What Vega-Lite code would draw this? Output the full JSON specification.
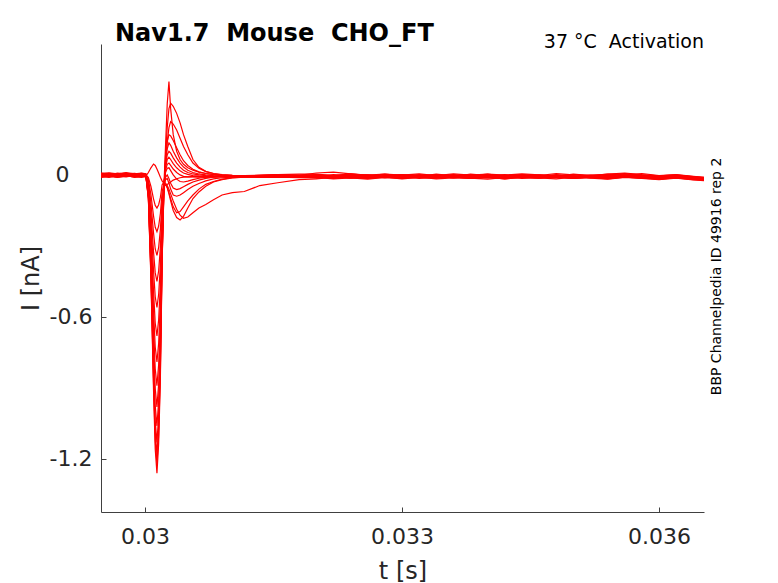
{
  "$schema": "https://vega.github.io/schema/vega-lite/v6.json",
  "width": 603,
  "height": 468,
  "autosize": {"type": "none"},
  "padding": {"left": 101, "top": 44, "right": 74, "bottom": 71},
  "background": "white",
  "config": {"view": {"stroke": null}, "font": "DejaVu Sans"},
  "title": {"text": "Nav1.7\u00a0 Mouse\u00a0 CHO_FT", "anchor": "start", "frame": "group", "dx": 14, "offset": -32, "baseline": "alphabetic", "fontSize": 24, "fontWeight": "bold", "color": "#000000", "font": "DejaVu Sans"},
  "layer": [
    {
      "data": {"values": [
        {"t":0.02948,"a":0.004,"b":-0.003,"c":0.008,"d":-0.006,"e":0.001,"f":-0.009,"g":0.005,"h":-0.002,"i":0.002,"j":-0.011,"k":0.006,"l":-0.004,"m":0.0,"n":0.003,"o":-0.007},
        {"t":0.02958,"a":-0.002,"b":0.005,"c":0.002,"d":-0.01,"e":0.007,"f":-0.004,"g":0.0,"h":-0.007,"i":0.004,"j":-0.006,"k":0.009,"l":0.001,"m":-0.005,"n":-0.001,"o":-0.003},
        {"t":0.02968,"a":0.006,"b":0.0,"c":-0.004,"d":-0.003,"e":0.003,"f":-0.008,"g":0.008,"h":-0.001,"i":-0.002,"j":-0.01,"k":0.004,"l":-0.006,"m":0.003,"n":0.005,"o":-0.009},
        {"t":0.02978,"a":0.001,"b":-0.006,"c":0.004,"d":-0.008,"e":0.008,"f":-0.002,"g":0.003,"h":-0.005,"i":0.006,"j":-0.004,"k":0.01,"l":-0.001,"m":-0.003,"n":0.002,"o":-0.006},
        {"t":0.02988,"a":-0.004,"b":0.002,"c":0.007,"d":-0.002,"e":0.0,"f":-0.01,"g":0.006,"h":-0.007,"i":0.003,"j":-0.008,"k":0.005,"l":-0.005,"m":0.002,"n":-0.003,"o":-0.001},
        {"t":0.02996,"a":0.003,"b":-0.002,"c":0.001,"d":-0.006,"e":0.005,"f":-0.005,"g":-0.001,"h":-0.003,"i":0.007,"j":-0.01,"k":0.008,"l":0.0,"m":-0.004,"n":0.004,"o":-0.007},
        {"t":0.03001,"a":0.0,"b":-0.001,"c":0.002,"d":-0.004,"e":0.003,"f":-0.006,"g":0.001,"h":-0.002,"i":0.004,"j":-0.007,"k":0.005,"l":-0.003,"m":-0.002,"n":0.001,"o":-0.005},
        {"t":0.03004,"a":-0.1,"b":-0.098,"c":-0.094,"d":-0.09,"e":-0.085,"f":-0.078,"g":-0.071,"h":-0.063,"i":-0.054,"j":-0.045,"k":-0.036,"l":-0.027,"m":-0.019,"n":-0.011,"o":0.01},
        {"t":0.03007,"a":-0.441,"b":-0.427,"c":-0.413,"d":-0.396,"e":-0.371,"f":-0.343,"g":-0.312,"h":-0.277,"i":-0.238,"j":-0.196,"k":-0.158,"l":-0.119,"m":-0.084,"n":-0.049,"o":0.03},
        {"t":0.0301,"a":-0.907,"b":-0.878,"c":-0.85,"d":-0.814,"e":-0.763,"f":-0.706,"g":-0.641,"h":-0.569,"i":-0.49,"j":-0.403,"k":-0.324,"l":-0.245,"m":-0.173,"n":-0.101,"o":0.046},
        {"t":0.03012,"a":-1.159,"b":-1.122,"c":-1.086,"d":-1.04,"e":-0.975,"f":-0.902,"g":-0.819,"h":-0.727,"i":-0.626,"j":-0.515,"k":-0.414,"l":-0.313,"m":-0.221,"n":-0.129,"o":0.04},
        {"t":0.03014,"a":-1.26,"b":-1.22,"c":-1.18,"d":-1.13,"e":-1.06,"f":-0.98,"g":-0.89,"h":-0.79,"i":-0.68,"j":-0.56,"k":-0.45,"l":-0.34,"m":-0.24,"n":-0.14,"o":0.025},
        {"t":0.03016,"a":-1.134,"b":-1.098,"c":-1.062,"d":-1.017,"e":-0.954,"f":-0.882,"g":-0.801,"h":-0.711,"i":-0.612,"j":-0.504,"k":-0.405,"l":-0.306,"m":-0.216,"n":-0.126,"o":0.008},
        {"t":0.03018,"a":-0.857,"b":-0.83,"c":-0.802,"d":-0.768,"e":-0.721,"f":-0.666,"g":-0.605,"h":-0.537,"i":-0.462,"j":-0.381,"k":-0.306,"l":-0.231,"m":-0.163,"n":-0.095,"o":-0.01},
        {"t":0.0302,"a":-0.378,"b":-0.366,"c":-0.354,"d":-0.339,"e":-0.318,"f":-0.294,"g":-0.267,"h":-0.237,"i":-0.204,"j":-0.168,"k":-0.135,"l":-0.102,"m":-0.072,"n":-0.042,"o":-0.025},
        {"t":0.03022,"a":-0.06,"b":-0.08,"c":-0.09,"d":-0.08,"e":-0.07,"f":-0.06,"g":-0.05,"h":-0.04,"i":-0.04,"j":-0.05,"k":-0.05,"l":-0.05,"m":-0.04,"n":-0.03,"o":-0.035},
        {"t":0.03024,"a":0.12,"b":0.08,"c":0.05,"d":0.06,"e":0.05,"f":0.04,"g":0.03,"h":0.02,"i":0.01,"j":-0.01,"k":-0.02,"l":-0.04,"m":-0.04,"n":-0.035,"o":-0.042},
        {"t":0.03026,"a":0.3,"b":0.2,"c":0.14,"d":0.14,"e":0.11,"f":0.085,"g":0.065,"h":0.045,"i":0.028,"j":0.0,"k":-0.015,"l":-0.05,"m":-0.055,"n":-0.045,"o":-0.04},
        {"t":0.03028,"a":0.394,"b":0.28,"c":0.2,"d":0.17,"e":0.135,"f":0.1,"g":0.075,"h":0.05,"i":0.03,"j":-0.015,"k":-0.035,"l":-0.075,"m":-0.08,"n":-0.06,"o":-0.035},
        {"t":0.0303,"a":0.28,"b":0.303,"c":0.225,"d":0.165,"e":0.125,"f":0.092,"g":0.065,"h":0.04,"i":0.018,"j":-0.035,"k":-0.06,"l":-0.1,"m":-0.11,"n":-0.08,"o":-0.03},
        {"t":0.03033,"a":0.17,"b":0.29,"c":0.215,"d":0.145,"e":0.1,"f":0.072,"g":0.048,"h":0.025,"i":0.0,"j":-0.055,"k":-0.085,"l":-0.135,"m":-0.15,"n":-0.11,"o":-0.022},
        {"t":0.03037,"a":0.1,"b":0.26,"c":0.19,"d":0.115,"e":0.072,"f":0.05,"g":0.03,"h":0.01,"i":-0.018,"j":-0.062,"k":-0.09,"l":-0.16,"m":-0.18,"n":-0.145,"o":-0.016},
        {"t":0.03041,"a":0.065,"b":0.22,"c":0.155,"d":0.085,"e":0.05,"f":0.033,"g":0.017,"h":0.0,"i":-0.028,"j":-0.058,"k":-0.085,"l":-0.155,"m":-0.19,"n":-0.17,"o":-0.012},
        {"t":0.03045,"a":0.045,"b":0.17,"c":0.12,"d":0.06,"e":0.033,"f":0.02,"g":0.008,"h":-0.006,"i":-0.03,"j":-0.05,"k":-0.075,"l":-0.135,"m":-0.175,"n":-0.183,"o":-0.009},
        {"t":0.0305,"a":0.03,"b":0.12,"c":0.085,"d":0.04,"e":0.02,"f":0.01,"g":0.002,"h":-0.008,"i":-0.026,"j":-0.04,"k":-0.062,"l":-0.11,"m":-0.14,"n":-0.178,"o":-0.008},
        {"t":0.03056,"a":0.02,"b":0.065,"c":0.05,"d":0.024,"e":0.01,"f":0.004,"g":-0.003,"h":-0.008,"i":-0.02,"j":-0.03,"k":-0.048,"l":-0.085,"m":-0.1,"n":-0.16,"o":-0.007},
        {"t":0.03063,"a":0.012,"b":0.032,"c":0.028,"d":0.013,"e":0.004,"f":0.0,"g":-0.005,"h":-0.009,"i":-0.014,"j":-0.022,"k":-0.036,"l":-0.06,"m":-0.072,"n":-0.14,"o":-0.006},
        {"t":0.03071,"a":0.006,"b":0.015,"c":0.014,"d":0.006,"e":0.0,"f":-0.003,"g":-0.006,"h":-0.009,"i":-0.01,"j":-0.015,"k":-0.025,"l":-0.04,"m":-0.048,"n":-0.125,"o":-0.008},
        {"t":0.0308,"a":0.002,"b":0.006,"c":0.006,"d":0.001,"e":-0.003,"f":-0.005,"g":-0.007,"h":-0.008,"i":-0.008,"j":-0.01,"k":-0.017,"l":-0.028,"m":-0.03,"n":-0.105,"o":-0.006},
        {"t":0.0309,"a":-0.001,"b":0.0,"c":0.001,"d":-0.002,"e":-0.004,"f":-0.006,"g":-0.005,"h":-0.007,"i":-0.006,"j":-0.008,"k":-0.012,"l":-0.018,"m":-0.02,"n":-0.085,"o":-0.004},
        {"t":0.03102,"a":-0.003,"b":-0.002,"c":-0.002,"d":-0.004,"e":-0.005,"f":-0.007,"g":-0.004,"h":-0.006,"i":-0.005,"j":-0.007,"k":-0.009,"l":-0.012,"m":-0.013,"n":-0.075,"o":-0.005},
        {"t":0.03116,"a":-0.004,"b":-0.003,"c":-0.004,"d":-0.005,"e":-0.006,"f":-0.008,"g":-0.003,"h":-0.005,"i":-0.004,"j":-0.008,"k":-0.008,"l":-0.009,"m":-0.009,"n":-0.07,"o":-0.006},
        {"t":0.03134,"a":-0.002,"b":-0.005,"c":-0.003,"d":-0.007,"e":-0.004,"f":-0.009,"g":-0.001,"h":-0.006,"i":-0.003,"j":-0.01,"k":-0.006,"l":-0.008,"m":-0.01,"n":-0.045,"o":-0.004},
        {"t":0.03155,"a":0.0,"b":-0.007,"c":0.001,"d":-0.009,"e":-0.002,"f":-0.011,"g":0.001,"h":-0.004,"i":-0.006,"j":-0.009,"k":-0.004,"l":-0.01,"m":-0.007,"n":-0.033,"o":-0.002},
        {"t":0.0318,"a":-0.003,"b":-0.004,"c":0.003,"d":-0.006,"e":-0.005,"f":-0.008,"g":-0.002,"h":-0.008,"i":-0.004,"j":-0.012,"k":-0.001,"l":-0.007,"m":-0.009,"n":-0.02,"o":-0.005},
        {"t":0.032,"a":-0.006,"b":-0.003,"c":0.003,"d":-0.014,"e":-0.001,"f":-0.01,"g":0.008,"h":-0.007,"i":-0.01,"j":-0.011,"k":0.001,"l":-0.006,"m":-0.008,"n":-0.017,"o":-0.003},
        {"t":0.0322,"a":0.001,"b":-0.008,"c":-0.003,"d":-0.008,"e":-0.007,"f":-0.015,"g":0.012,"h":-0.011,"i":-0.003,"j":-0.017,"k":-0.004,"l":-0.013,"m":-0.003,"n":-0.01,"o":-0.008},
        {"t":0.0324,"a":-0.004,"b":-0.011,"c":0.004,"d":-0.013,"e":0.0,"f":-0.008,"g":0.004,"h":-0.004,"i":-0.007,"j":-0.013,"k":0.003,"l":-0.007,"m":-0.01,"n":-0.014,"o":-0.001},
        {"t":0.0326,"a":0.0,"b":-0.004,"c":-0.001,"d":-0.015,"e":-0.006,"f":-0.014,"g":-0.003,"h":-0.01,"i":-0.001,"j":-0.018,"k":-0.001,"l":-0.011,"m":-0.004,"n":-0.007,"o":-0.007},
        {"t":0.0328,"a":-0.007,"b":-0.008,"c":0.003,"d":-0.01,"e":-0.003,"f":-0.01,"g":0.003,"h":-0.006,"i":-0.008,"j":-0.011,"k":-0.006,"l":-0.006,"m":-0.011,"n":-0.013,"o":-0.004},
        {"t":0.033,"a":-0.001,"b":-0.003,"c":-0.004,"d":-0.014,"e":0.001,"f":-0.017,"g":-0.001,"h":-0.013,"i":-0.004,"j":-0.015,"k":0.001,"l":-0.013,"m":-0.006,"n":-0.008,"o":-0.01},
        {"t":0.0332,"a":-0.006,"b":-0.01,"c":0.001,"d":-0.007,"e":-0.006,"f":-0.011,"g":0.004,"h":-0.007,"i":-0.01,"j":-0.01,"k":-0.004,"l":-0.008,"m":-0.008,"n":-0.015,"o":-0.003},
        {"t":0.0334,"a":0.003,"b":-0.006,"c":-0.003,"d":-0.013,"e":-0.001,"f":-0.014,"g":-0.003,"h":-0.011,"i":-0.003,"j":-0.017,"k":0.0,"l":-0.004,"m":-0.003,"n":-0.011,"o":-0.008},
        {"t":0.0336,"a":-0.004,"b":-0.013,"c":0.004,"d":-0.008,"e":-0.007,"f":-0.008,"g":0.001,"h":-0.004,"i":-0.008,"j":-0.013,"k":-0.007,"l":-0.011,"m":-0.01,"n":-0.007,"o":-0.004},
        {"t":0.0338,"a":0.0,"b":-0.004,"c":-0.001,"d":-0.015,"e":0.0,"f":-0.015,"g":-0.004,"h":-0.01,"i":-0.004,"j":-0.014,"k":0.003,"l":-0.007,"m":-0.006,"n":-0.014,"o":-0.011},
        {"t":0.034,"a":-0.008,"b":-0.008,"c":0.003,"d":-0.01,"e":-0.004,"f":-0.011,"g":0.003,"h":-0.007,"i":-0.011,"j":-0.018,"k":-0.003,"l":-0.013,"m":-0.008,"n":-0.01,"o":-0.003},
        {"t":0.0342,"a":-0.003,"b":-0.006,"c":-0.006,"d":-0.014,"e":-0.008,"f":-0.017,"g":-0.001,"h":-0.013,"i":-0.003,"j":-0.011,"k":0.001,"l":-0.008,"m":-0.004,"n":-0.017,"o":-0.007},
        {"t":0.0344,"a":0.001,"b":-0.011,"c":0.001,"d":-0.007,"e":-0.001,"f":-0.01,"g":0.004,"h":-0.006,"i":-0.007,"j":-0.015,"k":-0.004,"l":-0.006,"m":-0.011,"n":-0.008,"o":-0.006},
        {"t":0.0346,"a":-0.006,"b":-0.007,"c":-0.003,"d":-0.013,"e":-0.006,"f":-0.014,"g":0.0,"h":-0.011,"i":-0.001,"j":-0.013,"k":0.0,"l":-0.011,"m":-0.007,"n":-0.013,"o":-0.01},
        {"t":0.0348,"a":-0.001,"b":-0.003,"c":0.006,"d":-0.011,"e":0.001,"f":-0.008,"g":-0.004,"h":-0.008,"i":-0.008,"j":-0.017,"k":-0.006,"l":-0.007,"m":-0.003,"n":-0.006,"o":-0.003},
        {"t":0.035,"a":-0.007,"b":-0.01,"c":0.0,"d":-0.015,"e":-0.004,"f":-0.015,"g":0.001,"h":-0.004,"i":-0.006,"j":-0.01,"k":0.003,"l":-0.014,"m":-0.01,"n":-0.015,"o":-0.008},
        {"t":0.0352,"a":0.0,"b":-0.006,"c":-0.004,"d":-0.008,"e":-0.008,"f":-0.011,"g":-0.003,"h":-0.013,"i":-0.01,"j":-0.014,"k":-0.003,"l":-0.008,"m":-0.006,"n":-0.01,"o":-0.004},
        {"t":0.0354,"a":-0.004,"b":-0.013,"c":0.003,"d":-0.014,"e":-0.003,"f":-0.017,"g":0.003,"h":-0.007,"i":-0.003,"j":-0.018,"k":0.001,"l":-0.006,"m":-0.011,"n":-0.014,"o":-0.011},
        {"t":0.0356,"a":0.004,"b":-0.004,"c":-0.001,"d":-0.01,"e":0.0,"f":-0.01,"g":0.008,"h":-0.003,"i":-0.007,"j":-0.011,"k":0.006,"l":-0.011,"m":-0.004,"n":-0.007,"o":-0.001},
        {"t":0.0358,"a":-0.003,"b":-0.008,"c":0.006,"d":-0.013,"e":-0.006,"f":-0.014,"g":0.001,"h":-0.01,"i":-0.001,"j":-0.015,"k":-0.001,"l":-0.007,"m":-0.008,"n":-0.013,"o":-0.007},
        {"t":0.036,"a":-0.007,"b":-0.011,"c":-0.003,"d":-0.017,"e":-0.01,"f":-0.018,"g":-0.004,"h":-0.013,"i":-0.008,"j":-0.02,"k":-0.004,"l":-0.014,"m":-0.013,"n":-0.017,"o":-0.01},
        {"t":0.0362,"a":-0.004,"b":-0.007,"c":0.001,"d":-0.013,"e":-0.004,"f":-0.013,"g":0.0,"h":-0.008,"i":-0.006,"j":-0.014,"k":-0.001,"l":-0.01,"m":-0.007,"n":-0.011,"o":-0.006},
        {"t":0.0364,"a":-0.01,"b":-0.013,"c":-0.006,"d":-0.018,"e":-0.011,"f":-0.02,"g":-0.007,"h":-0.015,"i":-0.013,"j":-0.021,"k":-0.008,"l":-0.017,"m":-0.014,"n":-0.018,"o":-0.013},
        {"t":0.03653,"a":-0.014,"b":-0.017,"c":-0.01,"d":-0.021,"e":-0.015,"f":-0.022,"g":-0.011,"h":-0.018,"i":-0.015,"j":-0.024,"k":-0.013,"l":-0.02,"m":-0.017,"n":-0.021,"o":-0.015}
      ]},
      "transform": [{"fold": ["a","b","c","d","e","f","g","h","i","j","k","l","m","n","o"], "as": ["trace", "I"]}],
      "mark": {"type": "line", "color": "#ff0000", "strokeWidth": 1.2, "clip": true},
      "encoding": {
        "x": {
          "field": "t", "type": "quantitative",
          "scale": {"domain": [0.029487, 0.036525], "nice": false, "zero": false},
          "axis": {
            "title": "t [s]", "values": [0.03, 0.033, 0.036], "labelExpr": "'' + datum.value",
            "grid": false, "domainColor": "#404040", "domainWidth": 1, "tickColor": "#404040", "tickSize": -5, "tickWidth": 1,
            "labelFont": "DejaVu Sans", "labelFontSize": 22, "labelColor": "#262626", "labelPadding": 19,
            "titleFont": "DejaVu Sans", "titleFontSize": 24, "titleFontWeight": "normal", "titleColor": "#262626", "titleBaseline": "alphabetic", "titleY": 66
          }
        },
        "y": {
          "field": "I", "type": "quantitative",
          "scale": {"domain": [-1.424, 0.553], "nice": false, "zero": false},
          "axis": {
            "title": "I [nA]", "values": [-1.2, -0.6, 0], "labelExpr": "'' + datum.value",
            "grid": false, "domainColor": "#404040", "domainWidth": 1, "tickColor": "#404040", "tickSize": -5, "tickWidth": 1,
            "labelFont": "DejaVu Sans", "labelFontSize": 22, "labelColor": "#262626",
            "labelPadding": {"condition": {"test": "datum.value == 0", "value": 37}, "value": 14},
            "titleFont": "DejaVu Sans", "titleFontSize": 24, "titleFontWeight": "normal", "titleColor": "#262626", "titleBaseline": "alphabetic", "titleX": -63, "titleAngle": 270
          }
        },
        "detail": {"field": "trace", "type": "nominal"}
      }
    },
    {
      "data": {"values": [{}]},
      "mark": {"type": "text", "align": "right", "baseline": "alphabetic", "font": "DejaVu Sans", "fontSize": 19, "color": "#000000", "dy": 4},
      "encoding": {
        "x": {"datum": 0.036525, "type": "quantitative"},
        "y": {"datum": 0.553, "type": "quantitative"},
        "text": {"value": "37 °C\u00a0 Activation"}
      }
    },
    {
      "data": {"values": [{}]},
      "mark": {"type": "text", "align": "center", "baseline": "middle", "font": "DejaVu Sans", "fontSize": 14, "color": "#000000", "angle": 270, "dy": 13},
      "encoding": {
        "x": {"datum": 0.036525, "type": "quantitative"},
        "y": {"datum": -0.429, "type": "quantitative"},
        "text": {"value": "BBP Channelpedia ID 49916 rep 2"}
      }
    }
  ]
}
